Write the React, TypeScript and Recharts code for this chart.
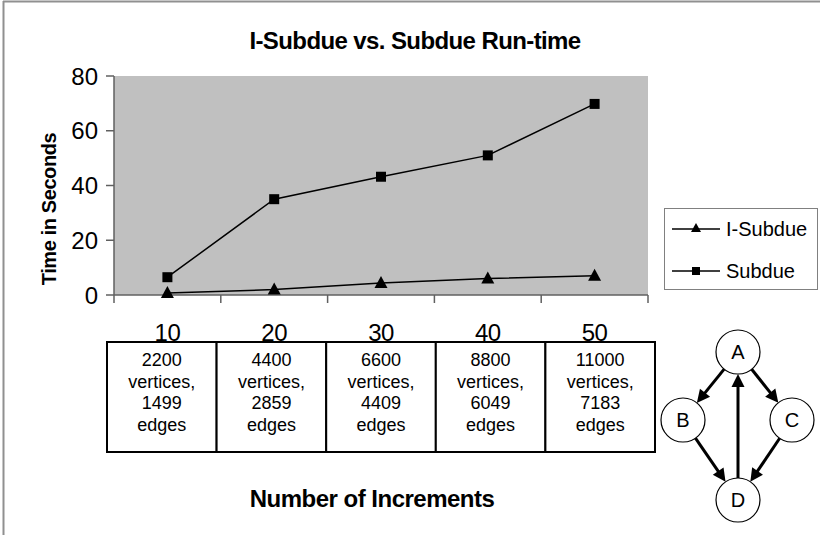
import { LineChart, Line, XAxis, YAxis, CartesianGrid, Legend } from "recharts";

const increments = ["10", "20", "30", "40", "50"];
const iSubdue = [0.7, 2, 4.4, 6, 7];
const subdue = [6.5, 35, 43.2, 51, 69.8];
const vertices = ["2200", "4400", "6600", "8800", "11000"];
const edges = ["1499", "2859", "4409", "6049", "7183"];
const yTicks = [0, 20, 40, 60, 80];

const graphNodes = ["A", "B", "C", "D"];
const graphEdges = [["A", "B"], ["A", "C"], ["B", "D"], ["C", "D"], ["D", "A"]];

const data = increments.map((n, i) => ({
    n,
    iSubdue: iSubdue[i],
    subdue: subdue[i]
}));

const FONT = "'Liberation Sans', Arial, Helvetica, sans-serif";
const PLOT_LEFT = 114;
const PLOT_RIGHT = 648;
const BW = (PLOT_RIGHT - PLOT_LEFT) / increments.length;
const PLOT_MID = (PLOT_LEFT + PLOT_RIGHT) / 2;
const CELL_W = 109.6;

function IncTick(props: any) {
    const { x, y, payload, index } = props;
    const axisY = y - 8;
    const cx = PLOT_MID + (x - PLOT_MID) * (CELL_W / BW);
    const lines = [vertices[index], "vertices,", edges[index], "edges"];
    return (
        <g>
            <line x1={x - BW / 2} y1={axisY} x2={x - BW / 2} y2={axisY + 8} stroke="#606060" strokeWidth={1.5} />
            {index === increments.length - 1 &&
                <line x1={x + BW / 2} y1={axisY} x2={x + BW / 2} y2={axisY + 8} stroke="#606060" strokeWidth={1.5} />}
            <rect x={cx - CELL_W / 2} y={y + 39} width={CELL_W} height={110} fill="#fff" stroke="#000" strokeWidth={2} />
            <text x={x} y={y + 38} textAnchor="middle" fontSize={24} letterSpacing={-0.5} fill="#000" fontFamily={FONT}>
                {payload.value}
            </text>
            {lines.map((t, i) => (
                <text key={i} x={cx} y={y + 63 + i * 21.5} textAnchor="middle" fontSize={18} fill="#000" fontFamily={FONT}>
                    {t}
                </text>
            ))}
        </g>
    );
}

const squareDot = (props: any) => {
    const { cx, cy, index } = props;
    return <rect key={"s" + index} x={cx - 5} y={cy - 5} width={10} height={10} fill="#000" />;
};

const triangleDot = (props: any) => {
    const { cx, cy, index } = props;
    return <polygon key={"t" + index} points={`${cx},${cy - 7} ${cx + 6.5},${cy + 5} ${cx - 6.5},${cy + 5}`} fill="#000" />;
};

const legendItems = [
    { name: "I-Subdue", shape: "triangle" },
    { name: "Subdue", shape: "square" }
];

function LegendBox() {
    return (
        <div style={{ position: "relative", width: 154, height: 82, boxSizing: "border-box", border: "1px solid #808080", background: "#fff", fontFamily: FONT }}>
            {legendItems.map((item, i) => (
                <div key={item.name} style={{ position: "absolute", left: 7, top: 8 + i * 42, height: 24, display: "flex", alignItems: "center" }}>
                    <svg width={48} height={24}>
                        <line x1={0} y1={12} x2={48} y2={12} stroke="#000" strokeWidth={1.5} />
                        {item.shape === "triangle"
                            ? <polygon points="24,6 29,15 19,15" fill="#000" />
                            : <rect x={20} y={8} width={8} height={8} fill="#000" />}
                    </svg>
                    <span style={{ fontSize: 20, marginLeft: 6, color: "#000", lineHeight: "24px" }}>{item.name}</span>
                </div>
            ))}
        </div>
    );
}

function Diagram() {
    const pos: Record<string, [number, number]> = { A: [738, 352], B: [683, 420], C: [792, 420], D: [738, 500] };
    const r = 22;
    return (
        <g>
            {graphEdges.map(([s, t]) => {
                const [sx, sy] = pos[s];
                const [tx, ty] = pos[t];
                const len = Math.hypot(tx - sx, ty - sy);
                const ux = (tx - sx) / len;
                const uy = (ty - sy) / len;
                const tipX = tx - ux * r;
                const tipY = ty - uy * r;
                const bX = tipX - ux * 13;
                const bY = tipY - uy * 13;
                const px = -uy * 6.5;
                const py = ux * 6.5;
                return (
                    <g key={s + t}>
                        <line x1={sx + ux * r} y1={sy + uy * r} x2={bX + ux * 2} y2={bY + uy * 2} stroke="#000" strokeWidth={3} />
                        <polygon points={`${tipX},${tipY} ${bX + px},${bY + py} ${bX - px},${bY - py}`} fill="#000" />
                    </g>
                );
            })}
            {graphNodes.map((id) => (
                <g key={id}>
                    <circle cx={pos[id][0]} cy={pos[id][1]} r={r} fill="#fff" stroke="#000" strokeWidth={1.2} />
                    <text x={pos[id][0]} y={pos[id][1] + 7} textAnchor="middle" fontSize={20} fill="#000" fontFamily={FONT}>{id}</text>
                </g>
            ))}
        </g>
    );
}

export default function App() {
    return (
        <div style={{ position: "absolute", left: 0, top: 0, width: 820, height: 535, background: "#fff", fontFamily: FONT }}>
            <LineChart width={820} height={535} data={data} margin={{ top: 76, right: 172, left: 54, bottom: 210 }}>
                <CartesianGrid horizontal={false} vertical={false} fill="#c0c0c0" />
                <XAxis
                    dataKey="n"
                    height={30}
                    interval={0}
                    padding={{ left: BW / 2, right: BW / 2 }}
                    axisLine={{ stroke: "#606060", strokeWidth: 1.5 }}
                    tickLine={false}
                    tickSize={8}
                    tickMargin={0}
                    tick={<IncTick />}
                />
                <XAxis
                    xAxisId="top"
                    orientation="top"
                    dataKey="n"
                    height={0}
                    tick={false}
                    tickLine={false}
                    axisLine={{ stroke: "#808080", strokeWidth: 2 }}
                />
                <YAxis
                    domain={[0, 80]}
                    ticks={yTicks}
                    interval={0}
                    width={60}
                    tickSize={8}
                    tickMargin={8}
                    axisLine={{ stroke: "#606060", strokeWidth: 1.5 }}
                    tickLine={{ stroke: "#606060", strokeWidth: 1.5 }}
                    tick={{ fontSize: 24, fill: "#000", fontFamily: FONT }}
                />
                <YAxis
                    yAxisId="right"
                    orientation="right"
                    width={0}
                    tick={false}
                    tickLine={false}
                    axisLine={{ stroke: "#808080", strokeWidth: 2 }}
                />
                <Line dataKey="iSubdue" name="I-Subdue" stroke="#000" strokeWidth={1.5} dot={triangleDot} activeDot={false} isAnimationActive={false} />
                <Line dataKey="subdue" name="Subdue" stroke="#000" strokeWidth={1.5} dot={squareDot} activeDot={false} isAnimationActive={false} />
                <Legend
                    content={<LegendBox />}
                    layout="vertical"
                    align="center"
                    verticalAlign="middle"
                    wrapperStyle={{ left: 664, top: 208, width: 154, height: 82 }}
                />
            </LineChart>
            <svg width={820} height={535} style={{ position: "absolute", left: 0, top: 0, pointerEvents: "none" }} fontFamily={FONT}>
                <line x1={3.5} y1={1} x2={3.5} y2={535} stroke="#909090" strokeWidth={2} />
                <line x1={3} y1={1.5} x2={820} y2={1.5} stroke="#909090" strokeWidth={2} />
                <text x={415} y={49} textAnchor="middle" fontSize={24} fontWeight="bold" letterSpacing={-0.6} fill="#000">
                    I-Subdue vs. Subdue Run-time
                </text>
                <text transform="translate(49,209) rotate(-90)" dy={7} textAnchor="middle" fontSize={20} fontWeight="bold" letterSpacing={-0.4} fill="#000">
                    Time in Seconds
                </text>
                <text x={372} y={507} textAnchor="middle" fontSize={24} fontWeight="bold" letterSpacing={-0.5} fill="#000">
                    Number of Increments
                </text>
                <Diagram />
            </svg>
        </div>
    );
}
